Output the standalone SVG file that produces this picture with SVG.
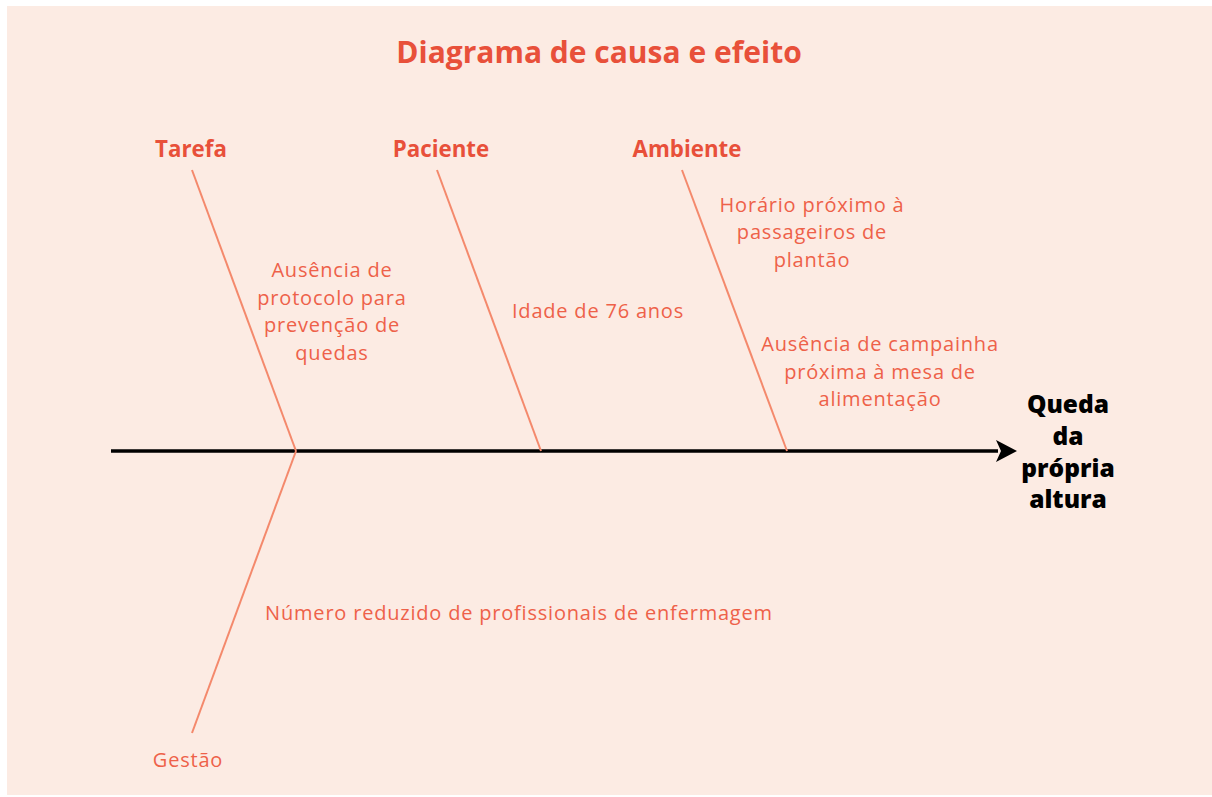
<svg xmlns="http://www.w3.org/2000/svg" width="1212" height="797" viewBox="0 0 1212 797">
<defs>
<style>
.bg{fill:#FCEBE3}
.title{font-family:"Open Sans","Noto Sans",sans-serif;font-weight:bold;font-size:30px;fill:#E8503A}
.cat{font-family:"Open Sans","Noto Sans",sans-serif;font-weight:bold;font-size:22.3px;fill:#E8503A}
.cause{font-family:"Open Sans","Noto Sans",sans-serif;font-weight:400;font-size:20px;letter-spacing:0.8px;fill:#EE6149}
.effect{font-family:"Open Sans","Noto Sans",sans-serif;font-weight:800;font-size:24.5px;fill:#000}
.bone{stroke:#F4896C;stroke-width:2;fill:none}
.spine{stroke:#000;stroke-width:3.5;fill:none}
</style>
</defs>
<rect x="7" y="6" width="1205" height="789" class="bg"/>
<text x="599" y="63" text-anchor="middle" class="title">Diagrama de causa e efeito</text>
<g id="connectors">
<line class="spine" x1="111" y1="451" x2="998" y2="451"/>
<path d="M996,440 L1017,451 L996,462 L1001,451 Z" fill="#000"/>
<line class="bone" x1="192" y1="170" x2="296" y2="451"/>
<line class="bone" x1="296" y1="451" x2="192" y2="733"/>
<line class="bone" x1="437" y1="170" x2="541" y2="451"/>
<line class="bone" x1="682" y1="170" x2="787" y2="451"/>
</g>
<g id="tarefa">
<text x="332" y="277" text-anchor="middle" class="cause">Ausência de</text>
<text x="332" y="305" text-anchor="middle" class="cause">protocolo para</text>
<text x="332" y="332" text-anchor="middle" class="cause">prevenção de</text>
<text x="332" y="360" text-anchor="middle" class="cause">quedas</text>
<text x="191" y="157" text-anchor="middle" class="cat">Tarefa</text>
</g>
<g id="paciente">
<text x="441" y="157" text-anchor="middle" class="cat">Paciente</text>
<text x="598" y="318" text-anchor="middle" class="cause">Idade de 76 anos</text>
</g>
<g id="ambiente">
<text x="687" y="157" text-anchor="middle" class="cat">Ambiente</text>
<text x="812" y="212" text-anchor="middle" class="cause">Horário próximo à</text>
<text x="812" y="239" text-anchor="middle" class="cause">passageiros de</text>
<text x="812" y="267" text-anchor="middle" class="cause">plantão</text>
<text x="880" y="351" text-anchor="middle" class="cause">Ausência de campainha</text>
<text x="880" y="379" text-anchor="middle" class="cause">próxima à mesa de</text>
<text x="880" y="406" text-anchor="middle" class="cause">alimentação</text>
</g>
<g id="gestao">
<text x="519" y="620" text-anchor="middle" class="cause">Número reduzido de profissionais de enfermagem</text>
<text x="188" y="767" text-anchor="middle" class="cause">Gestão</text>
</g>
<g id="efeito">
<text x="1068" y="413" text-anchor="middle" class="effect">Queda</text>
<text x="1068" y="445" text-anchor="middle" class="effect">da</text>
<text x="1068" y="477" text-anchor="middle" class="effect">própria</text>
<text x="1068" y="508" text-anchor="middle" class="effect">altura</text>
</g>
</svg>
